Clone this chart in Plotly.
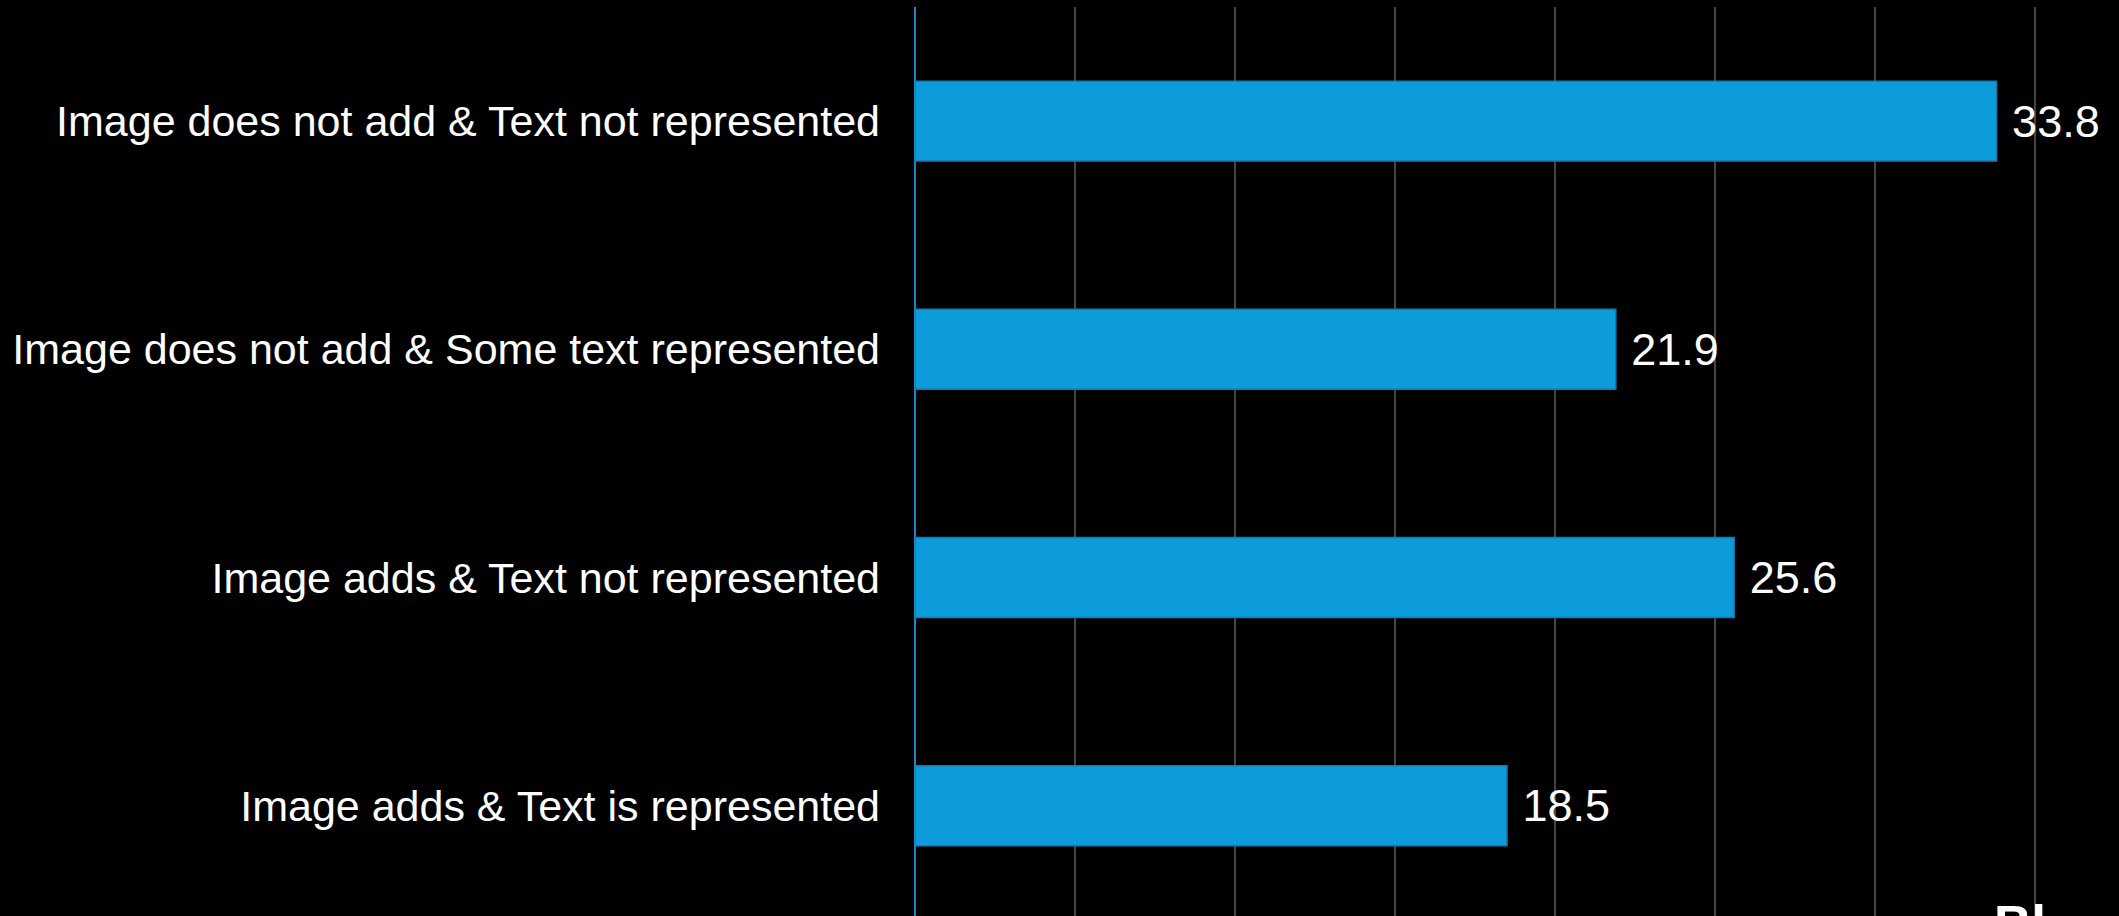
import plotly.graph_objects as go

categories = [
    "Image does not add & Text not represented",
    "Image does not add & Some text represented",
    "Image adds & Text not represented",
    "Image adds & Text is represented",
]
values = [33.8, 21.9, 25.6, 18.5]
tick_values = [0, 5, 10, 15, 20, 25, 30, 35]

W, H = 2119, 916
L, T = 915, 7
plot_h = H - T
FONT = "Liberation Sans, Arial, sans-serif"

fig = go.Figure()
fig.add_trace(go.Bar(
    x=values,
    y=categories,
    orientation="h",
    width=0.35,
    marker=dict(color="#0C9CDA", line=dict(color="#1A78AE", width=1.5)),
    text=[f"\u00a0{v}" for v in values],
    textposition="outside",
    textfont=dict(family=FONT, size=45, color="#FFFFFF"),
    cliponaxis=False,
    hoverinfo="skip",
))

fig.add_annotation(
    text="<b>Bl</b>", xref="paper", yref="paper",
    x=(1992 - L) / (W - L), y=(H - 893) / plot_h,
    xanchor="left", yanchor="top", showarrow=False,
    font=dict(family=FONT, size=52, color="#FFFFFF"),
)

fig.update_layout(
    width=W, height=H,
    margin=dict(l=L, r=0, t=T, b=0, pad=0),
    paper_bgcolor="#000000",
    plot_bgcolor="#000000",
    showlegend=False,
    font=dict(family=FONT, color="#FFFFFF"),
)
fig.update_xaxes(
    range=[0, (W - L) / 32.0],
    tickvals=tick_values,
    showticklabels=False,
    showgrid=True, gridcolor="#444444", gridwidth=1.5,
    zeroline=True, zerolinecolor="#1A86C4", zerolinewidth=2,
    showline=False,
)
fig.update_yaxes(
    categoryorder="array", categoryarray=categories,
    range=[-0.5 + plot_h / 228.2, -0.5],
    showgrid=False, zeroline=False, showline=False,
    tickfont=dict(family=FONT, size=43, color="#FFFFFF"),
    ticklabelstandoff=34,
)

fig.write_html(
    "out.html",
    config={"displayModeBar": False},
    post_script="document.body.style.margin='0';document.body.style.overflow='hidden';document.body.style.background='#000';",
)
